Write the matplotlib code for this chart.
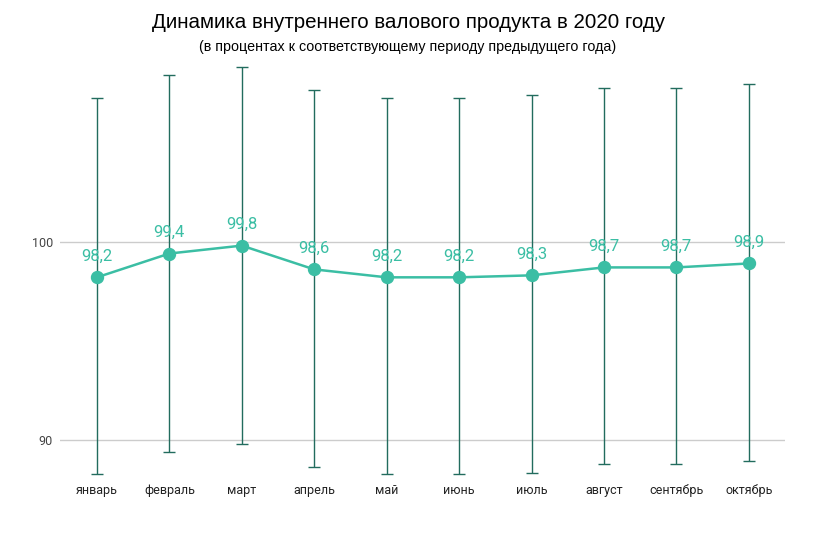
import matplotlib.pyplot as plt
import numpy as np

months = ["январь", "февраль", "март", "апрель", "май", "июнь",
          "июль", "август", "сентябрь", "октябрь"]
gdp = [98.2, 99.4, 99.8, 98.6, 98.2, 98.2, 98.3, 98.7, 98.7, 98.9]
upper = [107.26, 108.41, 108.79, 107.65, 107.26, 107.26, 107.38, 107.74, 107.74, 107.94]
lower = [88.29, 89.41, 89.80, 88.65, 88.29, 88.29, 88.35, 88.77, 88.77, 88.94]
yticks = [90, 100]

LINE = "#3bbea4"
BAR = "#226c5e"

plt.rcParams["font.family"] = ["Roboto", "DejaVu Sans"]

fig = plt.figure(figsize=(8.18, 5.37), dpi=100)
ax = fig.add_axes([60 / 818, 1 - 478 / 537, 725 / 818, 418 / 537])

x = np.arange(len(months))
vals = np.array(gdp)
err = [vals - np.array(lower), np.array(upper) - vals]

ax.errorbar(x, vals, yerr=err, fmt="none", ecolor=BAR, elinewidth=1,
            capsize=4.3, capthick=1, zorder=2)
ax.plot(x, vals, color=LINE, lw=1.8, marker="o", markersize=8.6, zorder=3)

for xi, v in zip(x, gdp):
    ax.annotate(f"{v:.1f}".replace(".", ","), (xi, v), xytext=(0, 10),
                textcoords="offset points", ha="center", va="bottom",
                fontsize=12, color=LINE, zorder=4)

ax.set_xlim(-0.51, 9.5)
ax.set_ylim(88.08, 109.16)
ax.set_yticks(yticks)
ax.set_xticks(x, months)
ax.grid(axis="y", color="#cccccc", lw=1)
ax.set_axisbelow(True)
for s in ax.spines.values():
    s.set_visible(False)
ax.tick_params(length=0)
ax.tick_params(axis="x", labelsize=9, colors="#222222", pad=4)
ax.tick_params(axis="y", labelsize=9, colors="#444444", pad=5)

fig.text(409 / 818, 1 - 22 / 537, "Динамика внутреннего валового продукта в 2020 году",
         ha="center", va="center", fontsize=14.8, family=["Liberation Sans", "DejaVu Sans"])
fig.text(408 / 818, 1 - 47 / 537, "(в процентах к соответствующему периоду предыдущего года)",
         ha="center", va="center", fontsize=10.3, family=["Liberation Sans", "DejaVu Sans"])

fig.savefig("out.png", dpi=100)
